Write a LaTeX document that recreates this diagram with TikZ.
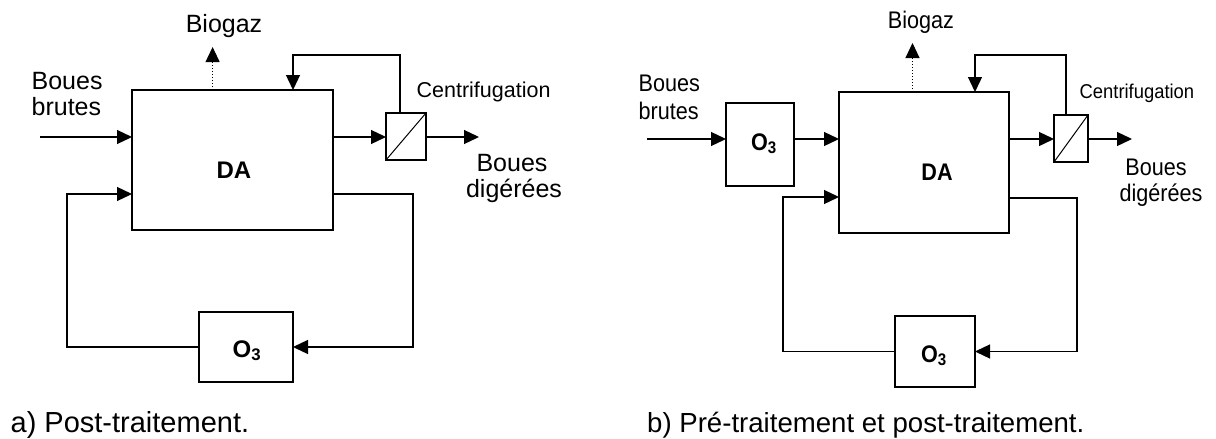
\documentclass[tikz,border=0pt]{standalone}
\usepackage{fontspec}
\setmainfont{Liberation Sans}
\usetikzlibrary{arrows.meta,calc}
\newcommand{\nrw}[2][0.9]{\scalebox{#1}[1]{#2}}
\begin{document}
\begin{tikzpicture}[x=1pt,y=-1pt,line width=1.3pt,
  box/.style={draw,line width=1.3pt,inner sep=0pt,outer sep=0pt},
  arr/.style={-{Triangle[length=15pt,width=14pt]}},
  lbla/.style={inner sep=0pt,font=\fontsize{25}{30}\selectfont},
  lblb/.style={inner sep=0pt,font=\fontsize{24}{29}\selectfont},
  cfa/.style={inner sep=0pt,font=\fontsize{21.5}{26}\selectfont},
  cfb/.style={inner sep=0pt,font=\fontsize{20}{24}\selectfont},
  bold/.style={inner sep=0pt,font=\fontsize{24}{29}\selectfont\bfseries},
  captxta/.style={inner sep=0pt,font=\fontsize{29}{35}\selectfont},
  captxtb/.style={inner sep=0pt,font=\fontsize{27.6}{33}\selectfont}]
\useasboundingbox (0,0) rectangle (1216,439);
\fill[white] (0,0) rectangle (1216,439);

% ---------------- Panel a ----------------
\node[box,minimum width=201pt,minimum height=140pt] (DAa) at (232.5,160) {};
\node[box,minimum width=94pt,minimum height=70pt] (O3a) at (246,347) {};
\node[box,minimum width=40pt,minimum height=47pt] (Ca) at (406,136.5) {};
\draw[line width=1pt] (Ca.south west) -- (Ca.north east);

\coordinate (ina) at (40,137);
\coordinate (outa) at (479,137);
\coordinate (ta) at (400,55);
\coordinate (da) at (293,55);
\coordinate (ga) at (212.6,47);
\coordinate (ra) at (413,194);
\coordinate (la) at (67,194);

\draw[arr] (ina) -- (ina -| DAa.west);
\draw[arr] (DAa.east |- ina) -- (ina -| Ca.west);
\draw[arr] (outa -| Ca.east) -- (outa);
\draw[arr] (ta |- Ca.north) -- (ta) -- (da) -- (da |- DAa.north);
\draw[arr,dotted,line width=1pt] (ga |- DAa.north) -- (ga);
\draw[arr] (DAa.east |- ra) -- (ra) -- (ra |- O3a.east) -- (O3a.east);
\draw[arr] (O3a.west) -- (la |- O3a.west) -- (la) -- (la -| DAa.west);

\node[lbla,anchor=base] (bga) at (224,32) {Biogaz};
\node[lbla,anchor=base west] (bb1a) at (31,89) {Boues};
\node[lbla,anchor=base west] (bb2a) at (31,115) {brutes};
\node[cfa,anchor=base west] (cfta) at (416,97) {Centrifugation};
\node[lbla,anchor=base] (bd1a) at (512,171) {Boues};
\node[lbla,anchor=base] (bd2a) at (514,197) {digérées};
\node[bold,anchor=base] (dta) at (234,178) {DA};
\node[bold,anchor=base] (o3ta) at (247,357) {O\textsubscript{3}};
\node[captxta,anchor=base west] (capa) at (10,432) {a) Post-traitement.};

% ---------------- Panel b ----------------
\node[box,minimum width=170pt,minimum height=141pt] (DAb) at (924,162.5) {};
\node[box,minimum width=68pt,minimum height=83pt] (O3p) at (760,144.5) {};
\node[box,minimum width=80pt,minimum height=71pt] (O3b) at (935,351.5) {};
\node[box,minimum width=34pt,minimum height=47pt] (Cb) at (1071,138.5) {};
\draw[line width=1pt] (Cb.south west) -- (Cb.north east);

\coordinate (inb) at (647,139);
\coordinate (outb) at (1132,139);
\coordinate (tb) at (1066,55);
\coordinate (db) at (975,55);
\coordinate (gb) at (912.5,43);
\coordinate (rb) at (1077,198);
\coordinate (lb) at (783,197);

\draw[arr] (inb) -- (inb -| O3p.west);
\draw[arr] (O3p.east |- inb) -- (inb -| DAb.west);
\draw[arr] (DAb.east |- inb) -- (inb -| Cb.west);
\draw[arr] (outb -| Cb.east) -- (outb);
\draw[arr] (tb |- Cb.north) -- (tb) -- (db) -- (db |- DAb.north);
\draw[arr,dotted,line width=1pt] (gb |- DAb.north) -- (gb);
\draw[arr] (DAb.east |- rb) -- (rb) -- (rb |- O3b.east) -- (O3b.east);
\draw[arr] (O3b.west) -- (lb |- O3b.west) -- (lb) -- (lb -| DAb.west);

\node[lblb,anchor=base] (bgb) at (921,28) {\nrw{Biogaz}};
\node[lblb,anchor=base west] (bb1b) at (638,91) {\nrw{Boues}};
\node[lblb,anchor=base west] (bb2b) at (638,119) {\nrw{brutes}};
\node[cfb,anchor=base west] (cftb) at (1079,98) {\nrw[0.92]{Centrifugation}};
\node[lblb,anchor=base] (bd1b) at (1156,175) {\nrw{Boues}};
\node[lblb,anchor=base] (bd2b) at (1161,201) {\nrw{digérées}};
\node[bold,anchor=base] (dtb) at (937,180) {\nrw{DA}};
\node[bold,anchor=base] (o3tp) at (764,150) {\nrw{O\textsubscript{3}}};
\node[bold,anchor=base] (o3tb) at (934,362) {\nrw{O\textsubscript{3}}};
\node[captxtb,anchor=base east] (capb) at (1085,432) {b) Pré-traitement et post-traitement.};
\end{tikzpicture}
\end{document}
